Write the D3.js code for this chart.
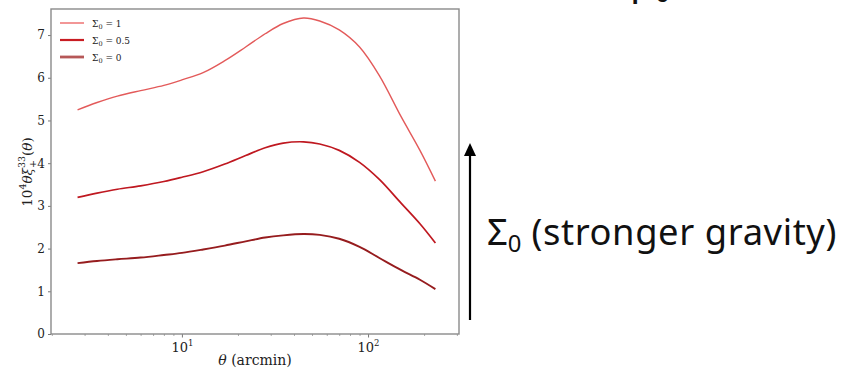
<!DOCTYPE html>
<html>
<head>
<meta charset="utf-8">
<script src="https://cdn.jsdelivr.net/npm/d3@7/dist/d3.min.js"></script>
<style>
  html, body { margin: 0; padding: 0; background: #fff; }
  svg { display: block; }
</style>
</head>
<body>
<svg id="chart" width="856" height="368"></svg>
<script>
// Angular separations (arcmin) where the correlation function is sampled
const theta = [2.75, 3.5, 4.5, 6, 8, 10, 13, 17, 22, 28, 35, 45, 55, 70, 90, 115, 150, 190, 230];

// 10^4 θ ξ+^{33}(θ) for three values of Σ0
const xiSigma1   = [5.25, 5.42, 5.57, 5.70, 5.82, 5.95, 6.12, 6.40, 6.72, 7.03, 7.27, 7.40, 7.33, 7.12, 6.72, 6.05, 5.10, 4.30, 3.58];
const xiSigma05  = [3.20, 3.30, 3.39, 3.47, 3.57, 3.67, 3.80, 3.98, 4.18, 4.36, 4.47, 4.50, 4.45, 4.30, 4.02, 3.62, 3.07, 2.58, 2.13];
const xiSigma0   = [1.66, 1.71, 1.75, 1.79, 1.85, 1.90, 1.98, 2.07, 2.17, 2.26, 2.31, 2.34, 2.32, 2.23, 2.04, 1.78, 1.50, 1.27, 1.05];

const seriesLabels = ["1", "0.5", "0"];
const yTicks = [0, 1, 2, 3, 4, 5, 6, 7];
const xTicks = [10, 100];

const series = [
  { label: seriesLabels[0], values: xiSigma1,  color: "#e35a5a", width: 1.4, legendColor: "#ef7b7b", legendWidth: 1.6 },
  { label: seriesLabels[1], values: xiSigma05, color: "#bf1820", width: 1.7, legendColor: "#c81c22", legendWidth: 2.2 },
  { label: seriesLabels[2], values: xiSigma0,  color: "#961c1e", width: 1.9, legendColor: "#b65858", legendWidth: 2.8 }
];

const svg = d3.select("#chart");
svg.append("rect").attr("width", 856).attr("height", 368).attr("fill", "#fff");

const plot = { left: 51, right: 459, top: 9, bottom: 334 };
const serif = "DejaVu Serif, Liberation Serif, serif";

const x = d3.scaleLog().domain([1.98, 308]).range([plot.left, plot.right]);
const y = d3.scaleLinear().domain([0, 7.61]).range([plot.bottom, plot.top]);

// Axes: major + minor ticks
const g = svg.append("g");

const yAxis = d3.axisLeft(y).tickValues(yTicks).tickSize(3).tickPadding(3).tickFormat(d3.format("d"));
const yG = g.append("g").attr("transform", `translate(${plot.left},0)`).call(yAxis);
yG.select(".domain").remove();
yG.selectAll("line").attr("stroke", "#777");
yG.selectAll("text").attr("font-family", serif).attr("font-size", 12).attr("fill", "#222");

const minor = [];
for (let e = 0; e <= 2; e++) for (let m = 2; m <= 9; m++) {
  const v = m * Math.pow(10, e);
  if (v > x.domain()[0] && v < x.domain()[1]) minor.push(v);
}
const xMinor = d3.axisBottom(x).tickValues(minor).tickSize(2).tickFormat("");
const xMinG = g.append("g").attr("transform", `translate(0,${plot.bottom})`).call(xMinor);
xMinG.select(".domain").remove();
xMinG.selectAll("line").attr("stroke", "#aaa");

const xAxis = d3.axisBottom(x).tickValues(xTicks).tickSize(3.5).tickFormat("");
const xG = g.append("g").attr("transform", `translate(0,${plot.bottom})`).call(xAxis);
xG.select(".domain").remove();
xG.selectAll("line").attr("stroke", "#777");
xG.selectAll(".tick").append("text")
  .attr("y", 18).attr("text-anchor", "middle")
  .attr("font-family", serif).attr("font-size", 13).attr("fill", "#222")
  .each(function(d) {
    const t = d3.select(this);
    t.append("tspan").text("10");
    t.append("tspan").attr("dy", -6).attr("font-size", 8.5).text(String(Math.round(Math.log10(d))));
  });

// Curves
const line = d3.line()
  .x((d, i) => x(theta[i]))
  .y(d => y(d))
  .curve(d3.curveCatmullRom.alpha(0.5));

series.forEach(s => {
  svg.append("path")
    .datum(s.values)
    .attr("d", line)
    .attr("fill", "none")
    .attr("stroke", s.color)
    .attr("stroke-width", s.width)
    .attr("stroke-linejoin", "round");
});

// Frame
svg.append("rect")
  .attr("x", plot.left).attr("y", plot.top)
  .attr("width", plot.right - plot.left).attr("height", plot.bottom - plot.top)
  .attr("fill", "none").attr("stroke", "#8a8a8a").attr("stroke-width", 1.4);

// Legend
const legend = svg.append("g").attr("transform", `translate(${plot.left + 9},${plot.top + 14})`);
series.forEach((s, i) => {
  const row = legend.append("g").attr("transform", `translate(0,${i * 17})`);
  row.append("line").attr("x1", 0).attr("x2", 24).attr("y1", 0).attr("y2", 0)
    .attr("stroke", s.legendColor).attr("stroke-width", s.legendWidth);
  const t = row.append("text").attr("x", 32).attr("y", 3.5)
    .attr("font-family", serif).attr("font-size", 9).attr("fill", "#222");
  t.append("tspan").text("Σ");
  t.append("tspan").attr("dy", 2).attr("font-size", 6.5).text("0");
  t.append("tspan").attr("dy", -2).text(" = " + s.label);
});

// Axis labels
const xl = svg.append("text")
  .attr("x", (plot.left + plot.right) / 2).attr("y", 365)
  .attr("text-anchor", "middle").attr("font-family", serif).attr("font-size", 14).attr("fill", "#222");
xl.append("tspan").attr("font-style", "italic").text("θ");
xl.append("tspan").text(" (arcmin)");

const yl = svg.append("text")
  .attr("transform", "translate(32,172) rotate(-90)")
  .attr("text-anchor", "middle").attr("font-family", serif).attr("font-size", 13.5).attr("fill", "#222");
yl.append("tspan").text("10");
yl.append("tspan").attr("dy", -6).attr("font-size", 9.5).text("4");
yl.append("tspan").attr("dy", 6).attr("font-style", "italic").text("θξ");
yl.append("tspan").attr("dy", 4).attr("font-size", 9.5).text("+");
yl.append("tspan").attr("dy", -11).attr("dx", -8).attr("font-size", 9.5).text("33");
yl.append("tspan").attr("dy", 7).text("(");
yl.append("tspan").attr("font-style", "italic").text("θ");
yl.append("tspan").text(")");

// Annotation arrow and caption on the right
const sans = "Noto Sans, Open Sans, Liberation Sans, sans-serif";
const arrowX = 470, arrowBottom = 320, arrowTip = 143, headLen = 13, headHalf = 6;
svg.append("line")
  .attr("x1", arrowX).attr("x2", arrowX).attr("y1", arrowBottom).attr("y2", arrowTip + headLen - 1)
  .attr("stroke", "#000").attr("stroke-width", 2.2);
svg.append("path")
  .attr("d", d3.line()([[arrowX - headHalf, arrowTip + headLen], [arrowX, arrowTip], [arrowX + headHalf, arrowTip + headLen]]) + "Z")
  .attr("fill", "#000");

const cap = svg.append("text").attr("x", 487).attr("y", 245)
  .attr("font-family", sans).attr("font-size", 32).attr("fill", "#111");
cap.append("tspan").text("Σ");
const capSub = cap.append("tspan").attr("dy", 7).attr("font-size", 21).text("0");
cap.append("tspan").attr("dy", -7).attr("dx", 10).attr("letter-spacing", 0.6).text("(stronger gravity)");
// fit the caption to its column width (text spans x 487 → 840)
const bb = cap.node().getBBox();
const k = (840 - 487) / bb.width;
cap.attr("font-size", 32 * k);
capSub.attr("font-size", 21 * k);

// Heading above (partly cut by the top edge)
const head = svg.append("text").attr("x", 630).attr("y", -6)
  .attr("font-family", sans).attr("font-size", 40).attr("fill", "#111");
head.append("tspan").text("μ");
head.append("tspan").attr("dy", 8).attr("font-size", 26).text("0");
</script>
</body>
</html>
